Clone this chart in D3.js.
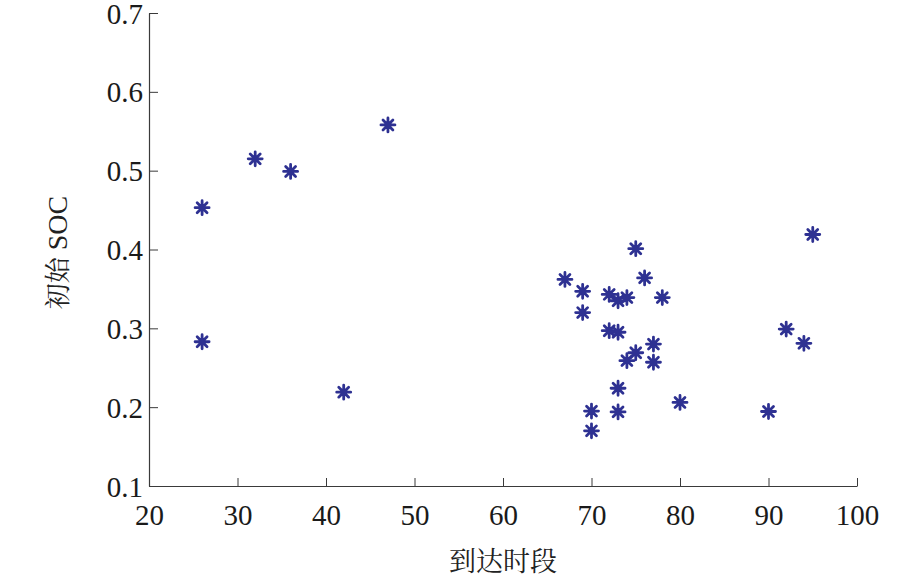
<!DOCTYPE html>
<html>
<head>
<meta charset="utf-8">
<script src="https://cdn.jsdelivr.net/npm/d3@7"></script>
<style>
  html, body { margin: 0; padding: 0; background: #fff; }
  svg { display: block; }
</style>
</head>
<body>
<svg id="chart" width="922" height="579"></svg>
<script>
// Data
const arrivalSlot = [26, 26, 32, 36, 42, 47,
  67, 69, 69, 72, 73, 74, 75, 76, 78, 72, 73, 74, 75, 77, 77, 73, 70, 73, 70, 80,
  95, 92, 94, 90];
const initialSOC = [0.453, 0.283, 0.515, 0.499, 0.219, 0.558,
  0.362, 0.347, 0.320, 0.343, 0.335, 0.339, 0.401, 0.364, 0.339, 0.297, 0.295, 0.259, 0.269, 0.280, 0.257, 0.224, 0.195, 0.194, 0.170, 0.206,
  0.419, 0.299, 0.281, 0.1945];
const xTicks = [20, 30, 40, 50, 60, 70, 80, 90, 100];
const yTicks = [0.1, 0.2, 0.3, 0.4, 0.5, 0.6, 0.7];
const xTitle = "到达时段";
const yTitleCJK = "初始";
const yTitleLatin = "SOC";

const svg = d3.select("#chart");
const W = 922, H = 579;
const m = { left: 149, right: W - 857, top: 13, bottom: H - 486 };
const iw = W - m.left - m.right, ih = H - m.top - m.bottom;
const serif = "'Liberation Serif', 'Times New Roman', serif";
const cjk = "'Noto Serif CJK SC', 'Noto Sans CJK SC', sans-serif";
const axisColor = "#3a3a3a";
const markColor = "#2E3192";

const x = d3.scaleLinear().domain([20, 100]).range([0, iw]);
const y = d3.scaleLinear().domain([0.1, 0.7]).range([ih, 0]);

const g = svg.append("g").attr("transform", `translate(${m.left},${m.top})`);

// X axis
const gx = g.append("g").attr("transform", `translate(0,${ih})`)
  .call(d3.axisBottom(x).tickValues(xTicks).tickFormat(d3.format("d"))
    .tickSizeInner(-8).tickSizeOuter(0).tickPadding(0));
gx.select(".domain").attr("stroke", axisColor).attr("stroke-width", 1.2);
gx.selectAll(".tick line").attr("stroke", axisColor).attr("stroke-width", 1);
gx.selectAll(".tick text")
  .attr("y", 39).attr("dy", null)
  .attr("font-family", serif).attr("font-size", 29).attr("fill", "#1a1a1a");

// Y axis
const gy = g.append("g")
  .call(d3.axisLeft(y).tickValues(yTicks).tickFormat(d3.format(".1f"))
    .tickSizeInner(-9).tickSizeOuter(0).tickPadding(0));
gy.select(".domain").attr("stroke", axisColor).attr("stroke-width", 1.2);
gy.selectAll(".tick line").attr("stroke", axisColor).attr("stroke-width", 1);
gy.selectAll(".tick text")
  .attr("x", -6).attr("dy", null).attr("y", 10)
  .attr("text-anchor", "end")
  .attr("font-family", serif).attr("font-size", 29).attr("fill", "#1a1a1a");
svg.selectAll(".tick text").attr("font-family", serif).attr("font-size", 29);

// Axis titles
svg.append("text")
  .attr("x", m.left + iw / 2).attr("y", 571)
  .attr("text-anchor", "middle")
  .attr("font-family", cjk).attr("font-size", 27).attr("fill", "#222")
  .text(xTitle);

const yt = svg.append("text")
  .attr("transform", `translate(67,${m.top + ih / 2 + 3}) rotate(-90)`)
  .attr("text-anchor", "middle")
  .attr("fill", "#222");
yt.append("tspan").attr("font-family", cjk).attr("font-size", 26).text(yTitleCJK);
yt.append("tspan").attr("font-family", serif).attr("font-size", 28).text(" " + yTitleLatin);

// Asterisk markers
const r = 7;
const starPath = d3.range(4).map(i => {
  const a = i * Math.PI / 4;
  const dx = r * Math.cos(a), dy = r * Math.sin(a);
  return `M${-dx},${-dy}L${dx},${dy}`;
}).join("");

const data = arrivalSlot.map((d, i) => ({ x: d, y: initialSOC[i] }));
g.append("g").selectAll("path.pt").data(data).join("path")
  .attr("class", "pt")
  .attr("transform", d => `translate(${x(d.x)},${y(d.y)})`)
  .attr("d", starPath)
  .attr("stroke", markColor)
  .attr("stroke-width", 2.8)
  .attr("stroke-linecap", "round")
  .attr("fill", "none");
</script>
</body>
</html>
